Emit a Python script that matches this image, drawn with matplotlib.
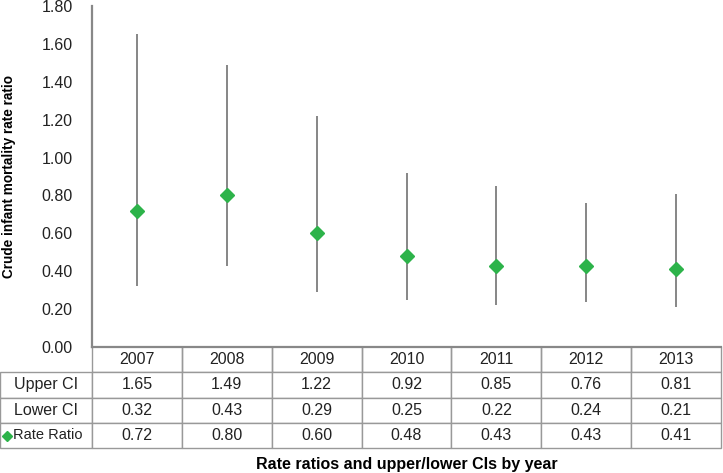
import matplotlib.pyplot as plt
import numpy as np

years = ["2007", "2008", "2009", "2010", "2011", "2012", "2013"]
upper_ci = [1.65, 1.49, 1.22, 0.92, 0.85, 0.76, 0.81]
lower_ci = [0.32, 0.43, 0.29, 0.25, 0.22, 0.24, 0.21]
rate_ratio = [0.72, 0.80, 0.60, 0.48, 0.43, 0.43, 0.41]
row_labels = ["Upper CI", "Lower CI", "Rate Ratio"]

plt.rcParams['font.family'] = ['Liberation Sans', 'DejaVu Sans']
fs = 11.5

W, H = 723, 473
fig = plt.figure(figsize=(W / 100, H / 100), dpi=100)
ax_l, ax_r, ax_b, ax_t = 92, 721, 347, 6
ax = fig.add_axes([ax_l / W, 1 - ax_b / H, (ax_r - ax_l) / W, (ax_b - ax_t) / H])

x = np.arange(len(years))
ax.vlines(x, lower_ci, upper_ci, color="#666666", lw=1.1)
ax.plot(x, rate_ratio, "D", color="#2db34a", ms=7, mec="#2db34a")

ax.set_xlim(-0.5, len(years) - 0.5)
ax.set_ylim(0, 1.8)
ax.set_yticks(np.arange(0, 1.81, 0.2))
ax.set_yticklabels([f"{v:.2f}" for v in np.arange(0, 1.81, 0.2)])
ax.set_xticks([])
ax.tick_params(axis="y", length=0, pad=14, labelsize=fs, colors="#222222")
for s in ["top", "right"]:
    ax.spines[s].set_visible(False)
for s in ["left", "bottom"]:
    ax.spines[s].set_color("#888888")
    ax.spines[s].set_linewidth(1.6)

ax.set_ylabel("Crude infant mortality rate ratio", fontweight="bold", fontsize=9.8)
ax.yaxis.set_label_coords(-(ax_l - 16) / (ax_r - ax_l), 0.5)

# data table under the plot
ax_w = ax_r - ax_l
ax_h = ax_b - ax_t
cell_text = [[row_labels[0]] + [f"{v:.2f}" for v in upper_ci],
             [row_labels[1]] + [f"{v:.2f}" for v in lower_ci],
             [row_labels[2]] + [f"{v:.2f}" for v in rate_ratio]]
tbl_h = 101
tbl = ax.table(cellText=cell_text, colLabels=[""] + years,
               colWidths=[92 / ax_w] + [(ax_w / 7) / ax_w] * 7,
               cellLoc="center",
               bbox=[-92 / ax_w, -tbl_h / ax_h, 1 + 92 / ax_w, tbl_h / ax_h])
tbl.auto_set_font_size(False)
tbl.set_fontsize(fs)
for (r, c), cell in tbl.get_celld().items():
    cell.set_edgecolor("#999999")
    cell.set_linewidth(1.0)
    cell.get_text().set_color("#222222")
    if r == 0 and c == 0:
        cell.visible_edges = ""
    elif r == 0:
        cell.visible_edges = "LRB"
# rate ratio label sits right of the key marker
rr = tbl[3, 0]
rr._loc = "right"
rr.get_text().set_ha("right")
rr.get_text().set_fontsize(10.5)

# legend key for the rate ratio row
ax.plot([-85 / ax_w], [-(tbl_h - 12) / ax_h], "D", color="#2db34a", ms=5,
        transform=ax.transAxes, clip_on=False)

fig.text((ax_l + ax_r) / 2 / W, 1 - 464 / H, "Rate ratios and upper/lower CIs by year",
         ha="center", va="center", fontweight="bold", fontsize=fs)

fig.savefig("out.png", dpi=100)
